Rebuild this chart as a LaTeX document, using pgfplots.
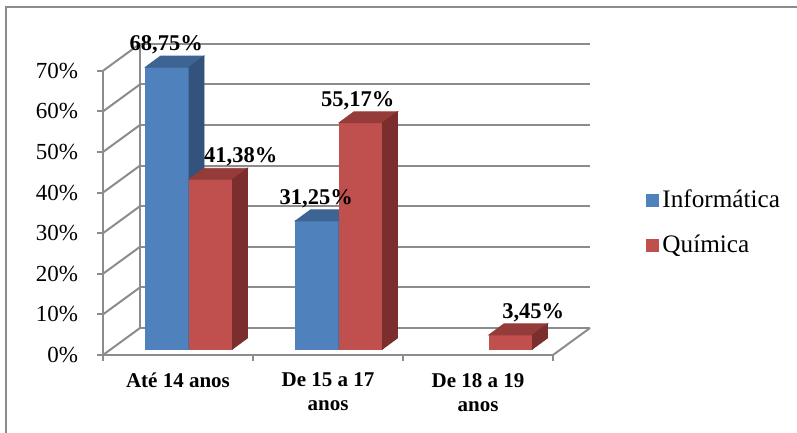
\documentclass[border=0pt]{standalone}
\usepackage{fontspec}
\setmainfont{Liberation Serif}
\usepackage{pgfplots}
\usepackage{pgfplotstable}
\pgfplotsset{compat=1.18}

\definecolor{infront}{HTML}{4F81BD}
\definecolor{inftop}{HTML}{3D6492}
\definecolor{infside}{HTML}{33527C}
\definecolor{quifront}{HTML}{C0504D}
\definecolor{quitop}{HTML}{953C3A}
\definecolor{quiside}{HTML}{7A2F2E}
\definecolor{gridc}{HTML}{8C8C8C}
\definecolor{framec}{HTML}{8C8C8C}

% share of students by age group, per course (in %)
% ldx: horizontal nudge of the value label, in bp
\pgfplotstableread{
cat val  ldx
0  68.75 -0.5
1  31.25 -0.5
}\infdata
\pgfplotstableread{
cat val  ldx
0  41.38 15
1  55.17 -1.5
2  3.45  11.25
}\quidata

\pgfdeclareplotmark{empty}{}

\pgfplotsset{
  % pseudo-3D column: #1 front, #2 top, #3 side colour, #4 horizontal offset
  bar3d/.style n args={4}{
    only marks, mark=empty, scatter,
    visualization depends on={rawy \as \barval},
    scatter/@pre marker code/.code={%
      \pgfmathsetlengthmacro\barh{\barval*2.05bp}%
      \pgfmathsetlengthmacro\bartop{3bp+\barval*0.02bp}%
      \fill[#1] (#4-10.875bp,\bartop-\barh) rectangle (#4+10.875bp,\bartop);
      \fill[#2] (#4-10.875bp,\bartop) -- (#4+10.875bp,\bartop) -- ++(7.5bp,5.5bp)
        -- ++(-21.75bp,0pt) -- cycle;
      \fill[#3] (#4+10.875bp,\bartop) -- ++(7.5bp,5.5bp) -- ++(0pt,-\barh)
        -- ++(-7.5bp,-5.5bp) -- cycle;
    },
    scatter/@post marker code/.code={},
    legend image code/.code={\fill[#1] (0bp,-2.9bp) rectangle (5.8bp,2.9bp);},
  },
  % value label above a column, #1 horizontal offset of the column
  barlabel/.style={
    forget plot, only marks, mark=empty,
    visualization depends on={\thisrow{ldx} \as \labdx},
    visualization depends on={rawy \as \labval},
    nodes near coords={\pgfmathprintnumber[fixed,fixed zerofill,precision=2,use comma]{\pgfplotspointmeta}\%},
    every node near coord/.append style={
      font=\bfseries\fontsize{11.25bp}{13bp}\selectfont, text=black,
      anchor=base, xshift={#1+(\labdx)*1bp}, yshift={11.25bp+(\labval)*0.02bp}},
  },
}

\begin{document}
\begin{tikzpicture}
\useasboundingbox (0,0) rectangle (398.5bp,216.5bp);
\draw[framec, line width=1bp] (2.75bp,-20bp) rectangle (420bp,213bp);

\begin{axis}[
  at={(51.5bp,39bp)}, anchor=south west,
  x=75bp, y=2.03bp,
  xmin=-0.5, xmax=2.5, ymin=0, ymax=70,
  enlargelimits=false, clip=false,
  /pgf/number format/assume math mode=true,
  axis lines=left, axis line style={-, gridc, line width=1bp},
  tick align=outside, major tick length=3bp, minor tick length=3bp,
  tick style={gridc, line width=1bp},
  ytick={0,10,...,70},
  yticklabel={\pgfmathprintnumber{\tick}\%},
  yticklabel style={font=\fontsize{11.5bp}{13bp}\selectfont, xshift=-6bp},
  xtick={0,1,2},
  xticklabels={Até 14 anos, De 15 a 17\\anos, De 18 a 19\\anos},
  minor xtick={-0.5,0.5,1.5,2.5},
  major x tick style={draw=none},
  xticklabel style={font=\bfseries\fontsize{10.5bp}{12bp}\selectfont, align=center, yshift=-2.5bp},
  ymajorgrids,
  major grid style={gridc, line width=1bp, xshift=18.5bp, yshift=13.5bp},
  legend style={draw=none, fill=none, inner sep=0pt, at={(1.206,0.465)}, anchor=west,
    font=\fontsize{12.6bp}{14bp}\selectfont, row sep=8bp},
  legend cell align=left,
]
% back wall and floor depth edges
\pgfplotsinvokeforeach{0,10,...,70}{
  \draw[gridc, line width=1bp] (axis cs:-0.5,#1) -- ++(18.5bp,13.5bp);
}
\draw[gridc, line width=1bp] ([shift={(18.5bp,13.5bp)}]axis cs:-0.5,0)
  -- ([shift={(18.5bp,13.5bp)}]axis cs:-0.5,70);
\draw[gridc, line width=1bp] (axis cs:2.5,0) -- ++(18.5bp,13.5bp);

\addplot[bar3d={infront}{inftop}{infside}{-5.375bp}] table[x=cat,y=val] {\infdata};
\addlegendentry{Informática}
\addplot[bar3d={quifront}{quitop}{quiside}{16.375bp}] table[x=cat,y=val] {\quidata};
\addlegendentry{Química}

\addplot[barlabel=-5.375bp] table[x=cat,y=val] {\infdata};
\addplot[barlabel=16.375bp] table[x=cat,y=val] {\quidata};
\end{axis}
\end{tikzpicture}
\end{document}
